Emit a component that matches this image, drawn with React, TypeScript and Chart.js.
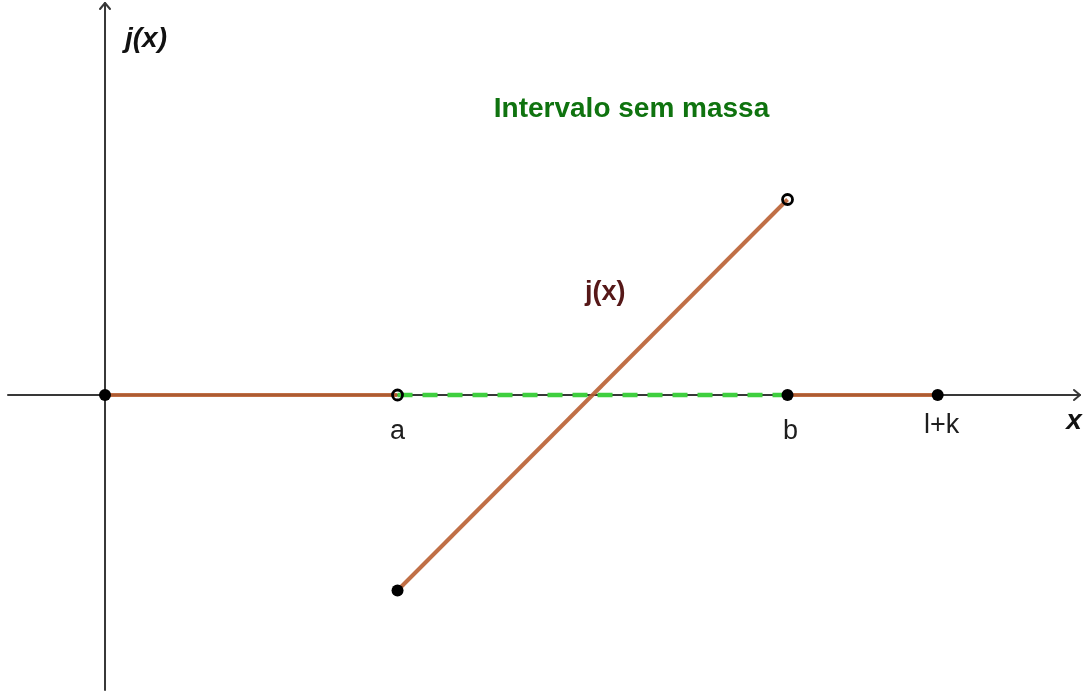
import { useEffect, useRef } from 'react';
import { Chart, registerables } from 'chart.js';

Chart.register(...registerables);

// Plot window in function units
const xMin = -1.077;
const xMax = 10.092;
const yMin = -3.028;
const yMax = 4.041;

// Key abscissae on the x axis
const aX = 3;
const bX = 7;
const lkX = 8.54;

// Values of j at the ends of the linear piece
const jAtA = -2;
const jAtB = 2;

// Pieces of j(x)
const leftPiece = [
  { x: 0, y: 0 },
  { x: aX, y: 0 },
];
const middlePiece = [
  { x: aX, y: jAtA },
  { x: bX, y: jAtB },
];
const rightPiece = [
  { x: bX, y: 0 },
  { x: lkX, y: 0 },
];
const masslessInterval = [
  { x: aX, y: 0 },
  { x: bX, y: 0 },
];

// Closed and open end points
const closedPoints = [
  { x: 0, y: 0 },
  { x: aX, y: jAtA },
  { x: bX, y: 0 },
  { x: lkX, y: 0 },
];
const openPoints = [
  { x: aX, y: 0 },
  { x: bX, y: jAtB },
];

// Tick labels under the x axis
const tickLabels = ['a', 'b', 'l+k'];
const tickValues = [aX, bX, lkX];

// Free text placed in function units
const intervalTitle = 'Intervalo sem massa';
const intervalTitlePos = { x: 5.4, y: 2.92 };
const curveLabel = 'j(x)';
const curveLabelPos = { x: 5.13, y: 1.05 };
const yAxisTitle = 'j(x)';
const xAxisTitle = 'x';

const FONT = '"Liberation Sans", Arial, sans-serif';
const CURVE = 'rgba(185, 95, 50, 0.9)';

const axesPlugin = {
  id: 'drawnAxes',
  beforeDatasetsDraw(chart: any) {
    const { ctx, chartArea, scales } = chart;
    const x0 = scales.x.getPixelForValue(0);
    const y0 = scales.y.getPixelForValue(0);
    const left = chartArea.left + 8;
    const right = chartArea.right - 9;
    const top = chartArea.top + 3;
    const bottom = chartArea.bottom - 1;
    ctx.save();
    ctx.strokeStyle = '#383838';
    ctx.lineWidth = 2;
    ctx.lineCap = 'round';
    ctx.lineJoin = 'round';
    ctx.beginPath();
    ctx.moveTo(left, y0);
    ctx.lineTo(right, y0);
    ctx.moveTo(x0, bottom);
    ctx.lineTo(x0, top);
    ctx.stroke();
    ctx.beginPath();
    ctx.moveTo(right - 6, y0 - 5);
    ctx.lineTo(right, y0);
    ctx.lineTo(right - 6, y0 + 5);
    ctx.moveTo(x0 - 5, top + 6);
    ctx.lineTo(x0, top);
    ctx.lineTo(x0 + 5, top + 6);
    ctx.stroke();
    ctx.restore();
  },
};

const textPlugin = {
  id: 'textLabels',
  afterDatasetsDraw(chart: any) {
    const { ctx, chartArea, scales } = chart;
    const sx = scales.x;
    const sy = scales.y;
    const x0 = sx.getPixelForValue(0);
    const y0 = sy.getPixelForValue(0);
    ctx.save();
    ctx.textAlign = 'center';

    // tick labels
    ctx.fillStyle = '#1e1e1e';
    ctx.font = `27px ${FONT}`;
    ctx.textBaseline = 'alphabetic';
    tickLabels.forEach((t, i) => {
      const px = sx.getPixelForValue(tickValues[i]);
      const dy = t === 'l+k' ? 38 : 44;
      const dx = t === 'b' ? 3 : t === 'l+k' ? 4 : 0;
      ctx.fillText(t, px + dx, y0 + dy);
    });

    // axis titles
    ctx.fillStyle = '#111111';
    ctx.font = `italic bold 28px ${FONT}`;
    ctx.textBaseline = 'middle';
    ctx.fillText(yAxisTitle, x0 + 41, chartArea.top + 39);
    ctx.fillText(xAxisTitle, chartArea.right - 15, y0 + 26);

    // interval title
    ctx.fillStyle = '#0f730f';
    ctx.font = `bold 28px ${FONT}`;
    ctx.fillText(
      intervalTitle,
      sx.getPixelForValue(intervalTitlePos.x),
      sy.getPixelForValue(intervalTitlePos.y)
    );

    // curve label
    ctx.fillStyle = '#561818';
    ctx.font = `bold 27px ${FONT}`;
    ctx.fillText(
      curveLabel,
      sx.getPixelForValue(curveLabelPos.x),
      sy.getPixelForValue(curveLabelPos.y)
    );
    ctx.restore();
  },
};

export default function App() {
  const canvasRef = useRef<HTMLCanvasElement>(null);

  useEffect(() => {
    if (!canvasRef.current) return;
    const lineBase = {
      showLine: true,
      pointRadius: 0,
      pointHoverRadius: 0,
      borderWidth: 4,
      fill: false,
    };
    const chart = new Chart(canvasRef.current, {
      type: 'scatter',
      data: {
        datasets: [
          {
            label: 'closed',
            data: closedPoints,
            showLine: false,
            pointRadius: 6,
            pointHoverRadius: 6,
            pointBackgroundColor: '#000000',
            pointBorderColor: '#000000',
            pointBorderWidth: 0,
            order: 0,
          },
          {
            label: 'open',
            data: openPoints,
            showLine: false,
            pointRadius: 5,
            pointHoverRadius: 5,
            pointBackgroundColor: 'rgba(0,0,0,0)',
            pointBorderColor: '#000000',
            pointBorderWidth: 2.8,
            order: 0,
          },
          {
            label: 'interval',
            data: masslessInterval,
            ...lineBase,
            borderColor: '#3fcf3f',
            borderWidth: 4.5,
            borderDash: [15, 10],
            order: 1,
          },
          { label: 'left', data: leftPiece, ...lineBase, borderColor: CURVE, order: 2 },
          { label: 'middle', data: middlePiece, ...lineBase, borderColor: CURVE, order: 2 },
          { label: 'right', data: rightPiece, ...lineBase, borderColor: CURVE, order: 2 },
        ],
      },
      options: {
        animation: false,
        responsive: false,
        maintainAspectRatio: false,
        layout: { padding: 0, autoPadding: false },
        plugins: {
          legend: { display: false },
          tooltip: { enabled: false },
          title: { display: false },
        },
        scales: {
          x: { type: 'linear', min: xMin, max: xMax, display: false },
          y: { type: 'linear', min: yMin, max: yMax, display: false },
        },
      },
      plugins: [axesPlugin, textPlugin],
    });
    return () => chart.destroy();
  }, []);

  return (
    <div
      style={{
        position: 'fixed',
        left: 0,
        top: 0,
        width: 1089,
        height: 691,
        background: '#ffffff',
      }}
    >
      <canvas ref={canvasRef} width={1089} height={691} />
    </div>
  );
}
